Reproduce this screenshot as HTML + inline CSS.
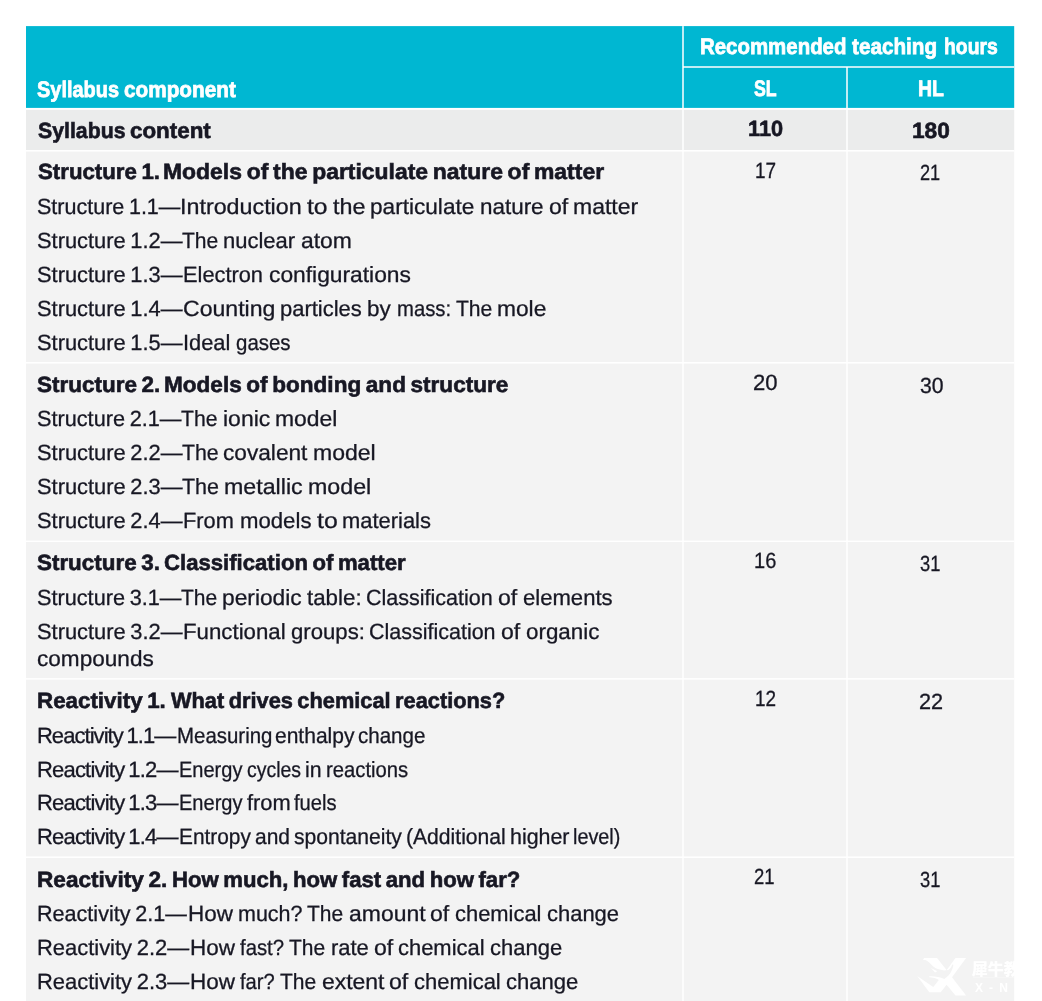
<!DOCTYPE html>
<html lang="en"><head><meta charset="utf-8"><title>Syllabus outline</title>
<style>
html,body{margin:0;padding:0;background:#fff}
body{position:relative;width:1042px;height:1001px;overflow:hidden;font-family:"Liberation Sans","Noto Sans CJK SC",sans-serif}
svg.bg{position:absolute;left:0;top:0}
.t{position:absolute;white-space:nowrap;text-rendering:geometricPrecision;transform-origin:0 0;font:22px/24px "Liberation Sans",sans-serif;color:#171723;-webkit-text-stroke:0.3px #171723}
.t{word-spacing:-1.4px}
.b{font-weight:bold;word-spacing:-1.6px;-webkit-text-stroke:0.6px #171723}
.w{font-size:22.5px;word-spacing:-1.3px;color:#fff;-webkit-text-stroke:0.75px #fff}
.wm{position:absolute;white-space:nowrap;color:#fff;font-weight:bold}
.wm1{left:971.7px;top:959px;font:900 16px/22px "Liberation Sans","Noto Sans CJK SC",sans-serif}
.wm2{left:975px;top:980px;font:bold 12px/16px "Liberation Sans",sans-serif;letter-spacing:6.1px}
</style></head><body>
<svg class="bg" width="1042" height="1001" viewBox="0 0 1042 1001">
<rect x="26.00" y="26.10" width="988.20" height="81.80" fill="#00b7d2"/>
<rect x="26.00" y="109.90" width="988.20" height="40.90" fill="#ebecec"/>
<rect x="26.00" y="150.80" width="988.20" height="850.20" fill="#f3f3f3"/>
<rect x="26.00" y="150.05" width="988.20" height="1.50" fill="#fff"/>
<rect x="26.00" y="362.05" width="988.20" height="1.50" fill="#fff"/>
<rect x="26.00" y="540.55" width="988.20" height="1.50" fill="#fff"/>
<rect x="26.00" y="678.15" width="988.20" height="1.50" fill="#fff"/>
<rect x="26.00" y="856.45" width="988.20" height="1.50" fill="#fff"/>
<rect x="682.25" y="26.10" width="1.50" height="974.90" fill="#fff"/>
<rect x="846.25" y="67.00" width="1.50" height="934.00" fill="#fff"/>
<rect x="683.00" y="66.25" width="331.20" height="1.50" fill="#fff"/>
<g transform="translate(912 951) scale(0.05757)" fill="#fff">
<path d="M185 150 L215 122 L435 122 L600 330 C570 342 540 336 520 330 C440 320 380 290 330 230 C290 180 250 150 185 150 Z"/>
<path d="M330 295 L440 350 L400 375 Z"/>
<path d="M755 122 L940 122 L695 455 L940 775 L755 775 L600 585 L500 715 L300 715 L90 435 L370 625 L465 505 C420 475 360 460 300 458 L300 438 C400 435 490 450 560 485 C640 440 700 360 720 240 L700 235 C680 300 640 335 600 335 Z"/>
</g>
<rect x="973" y="977.6" width="60" height="0.5" fill="#fff" fill-opacity="0.6"/>
</svg>
<span class="t b w" style="left:700.00px;top:35px;transform:scaleX(0.9080)">Recommended </span>
<span class="t b w" style="left:852.20px;top:35px;transform:scaleX(0.9195)">teaching </span>
<span class="t b w" style="left:944.41px;top:35px;transform:scaleX(0.8615)">hours</span>
<span class="t b w" style="left:37.31px;top:78px;transform:scaleX(0.8861)">Syllabus </span>
<span class="t b w" style="left:123.52px;top:78px;transform:scaleX(0.9227)">component </span>
<span class="t b w" style="left:753.80px;top:77px;transform:scaleX(0.7889)">SL </span>
<span class="t b w" style="left:917.87px;top:77px;transform:scaleX(0.8656)">HL</span>
<span class="t b" style="left:37.67px;top:119px;transform:scaleX(0.9666)">Syllabus </span>
<span class="t b" style="left:129.67px;top:119px;transform:scaleX(1.0173)">content </span>
<span class="t b" style="left:748.01px;top:117px;transform:scaleX(0.9868)">110 </span>
<span class="t b" style="left:912.35px;top:119px;transform:scaleX(1.0298)">180</span>
<span class="t b" style="left:37.54px;top:160px;transform:scaleX(1.0107)">Structure 1. </span>
<span class="t b" style="left:162.76px;top:160px;transform:scaleX(1.0424)">Models of the particulate nature of matter </span>
<span class="t" style="left:754.71px;top:159px;transform:scaleX(0.8618)">17 </span>
<span class="t" style="left:919.62px;top:161px;transform:scaleX(0.8262)">21</span>
<span class="t" style="left:36.75px;top:195px;transform:scaleX(0.9782)">Structure 1.1—</span><span class="t" style="left:180.38px;top:195px;transform:scaleX(1.0583)">Introduction </span>
<span class="t" style="left:307.44px;top:195px;transform:scaleX(1.1225)">to </span>
<span class="t" style="left:332.91px;top:195px;transform:scaleX(1.0594)">the </span>
<span class="t" style="left:370.47px;top:195px;transform:scaleX(1.0277)">particulate </span>
<span class="t" style="left:480.02px;top:195px;transform:scaleX(1.0191)">nature </span>
<span class="t" style="left:548.66px;top:195px;transform:scaleX(1.0481)">of </span>
<span class="t" style="left:573.46px;top:195px;transform:scaleX(1.0441)">matter</span>
<span class="t" style="left:36.73px;top:229px;transform:scaleX(0.9927)">Structure 1.2—</span><span class="t" style="left:181.66px;top:229px;transform:scaleX(0.9561)">The </span>
<span class="t" style="left:223.36px;top:229px;transform:scaleX(1.0002)">nuclear </span>
<span class="t" style="left:300.56px;top:229px;transform:scaleX(1.0405)">atom</span>
<span class="t" style="left:36.73px;top:263px;transform:scaleX(0.9927)">Structure 1.3—</span><span class="t" style="left:183.16px;top:263px;transform:scaleX(0.9905)">Electron </span>
<span class="t" style="left:268.64px;top:263px;transform:scaleX(1.0363)">configurations</span>
<span class="t" style="left:36.73px;top:297px;transform:scaleX(0.9927)">Structure 1.4—</span><span class="t" style="left:182.81px;top:297px;transform:scaleX(1.0487)">Counting </span>
<span class="t" style="left:280.01px;top:297px;transform:scaleX(0.9980)">particles </span>
<span class="t" style="left:367.48px;top:297px;transform:scaleX(1.0198)">by </span>
<span class="t" style="left:396.88px;top:297px;transform:scaleX(0.9217)">mass: </span>
<span class="t" style="left:455.50px;top:297px;transform:scaleX(0.9577)">The </span>
<span class="t" style="left:497.21px;top:297px;transform:scaleX(1.0341)">mole</span>
<span class="t" style="left:36.73px;top:331px;transform:scaleX(0.9927)">Structure 1.5—</span><span class="t" style="left:182.82px;top:331px;transform:scaleX(0.9929)">Ideal </span>
<span class="t" style="left:235.80px;top:331px;transform:scaleX(0.9300)">gases</span>
<span class="t b" style="left:37.43px;top:373px;transform:scaleX(1.0217)">Structure 2. </span>
<span class="t b" style="left:164.38px;top:373px;transform:scaleX(1.0253)">Models of bonding and structure </span>
<span class="t" style="left:752.82px;top:371px;transform:scaleX(1.0020)">20 </span>
<span class="t" style="left:919.53px;top:374px;transform:scaleX(0.9634)">30</span>
<span class="t" style="left:36.74px;top:407px;transform:scaleX(0.9858)">Structure 2.1—</span><span class="t" style="left:180.66px;top:407px;transform:scaleX(0.9602)">The </span>
<span class="t" style="left:222.52px;top:407px;transform:scaleX(1.0442)">ionic </span>
<span class="t" style="left:274.86px;top:407px;transform:scaleX(1.0406)">model</span>
<span class="t" style="left:36.73px;top:441px;transform:scaleX(0.9927)">Structure 2.2—</span><span class="t" style="left:181.66px;top:441px;transform:scaleX(0.9657)">The </span>
<span class="t" style="left:223.46px;top:441px;transform:scaleX(1.0302)">covalent </span>
<span class="t" style="left:313.32px;top:441px;transform:scaleX(1.0466)">model</span>
<span class="t" style="left:36.73px;top:475px;transform:scaleX(0.9927)">Structure 2.3—</span><span class="t" style="left:181.65px;top:475px;transform:scaleX(0.9742)">The </span>
<span class="t" style="left:224.07px;top:475px;transform:scaleX(1.0544)">metallic </span>
<span class="t" style="left:307.77px;top:475px;transform:scaleX(1.0559)">model</span>
<span class="t" style="left:36.73px;top:509px;transform:scaleX(0.9927)">Structure 2.4—</span><span class="t" style="left:183.16px;top:509px;transform:scaleX(0.9895)">From </span>
<span class="t" style="left:239.72px;top:509px;transform:scaleX(1.0076)">models </span>
<span class="t" style="left:316.54px;top:509px;transform:scaleX(1.1285)">to </span>
<span class="t" style="left:342.45px;top:509px;transform:scaleX(0.9964)">materials</span>
<span class="t b" style="left:37.43px;top:551px;transform:scaleX(1.0183)">Structure 3. </span>
<span class="t b" style="left:164.29px;top:551px;transform:scaleX(1.0062)">Classification of matter </span>
<span class="t" style="left:754.43px;top:549px;transform:scaleX(0.9102)">16 </span>
<span class="t" style="left:919.85px;top:552px;transform:scaleX(0.8332)">31</span>
<span class="t" style="left:36.74px;top:586px;transform:scaleX(0.9858)">Structure 3.1—</span><span class="t" style="left:180.66px;top:586px;transform:scaleX(0.9536)">The </span>
<span class="t" style="left:222.24px;top:586px;transform:scaleX(1.0343)">periodic </span>
<span class="t" style="left:306.81px;top:586px;transform:scaleX(1.0144)">table: </span>
<span class="t" style="left:365.82px;top:586px;transform:scaleX(0.9779)">Classification </span>
<span class="t" style="left:497.92px;top:586px;transform:scaleX(1.0493)">of </span>
<span class="t" style="left:522.53px;top:586px;transform:scaleX(1.0035)">elements</span>
<span class="t" style="left:36.73px;top:620px;transform:scaleX(0.9927)">Structure 3.2—</span><span class="t" style="left:183.12px;top:620px;transform:scaleX(1.0112)">Functional </span>
<span class="t" style="left:291.09px;top:620px;transform:scaleX(1.0071)">groups: </span>
<span class="t" style="left:369.36px;top:620px;transform:scaleX(0.9764)">Classification </span>
<span class="t" style="left:501.26px;top:620px;transform:scaleX(1.0475)">of </span>
<span class="t" style="left:525.81px;top:620px;transform:scaleX(1.0178)">organic</span>
<span class="t" style="left:37.12px;top:647px;transform:scaleX(1.0268)">compounds</span>
<span class="t b" style="left:37.10px;top:689px;transform:scaleX(1.0157)">Reactivity 1. </span>
<span class="t b" style="left:170.77px;top:689px;transform:scaleX(0.9902)">What drives chemical reactions? </span>
<span class="t" style="left:755.21px;top:687px;transform:scaleX(0.8618)">12 </span>
<span class="t" style="left:918.94px;top:690px;transform:scaleX(0.9846)">22</span>
<span class="t" style="left:36.94px;top:724px;letter-spacing:-0.951px">Reactivity 1.1—</span><span class="t" style="left:176.97px;top:724px;transform:scaleX(0.9288)">Measuring </span>
<span class="t" style="left:275.38px;top:724px;transform:scaleX(0.9549)">enthalpy </span>
<span class="t" style="left:358.40px;top:724px;transform:scaleX(0.9338)">change</span>
<span class="t" style="left:36.94px;top:758px;letter-spacing:-0.794px">Reactivity 1.2—</span><span class="t" style="left:179.40px;top:758px;transform:scaleX(0.9097)">Energy </span>
<span class="t" style="left:246.51px;top:758px;transform:scaleX(0.8831)">cycles </span>
<span class="t" style="left:304.61px;top:758px;transform:scaleX(0.9655)">in </span>
<span class="t" style="left:325.69px;top:758px;transform:scaleX(0.9202)">reactions</span>
<span class="t" style="left:36.94px;top:791px;letter-spacing:-0.794px">Reactivity 1.3—</span><span class="t" style="left:179.40px;top:791px;transform:scaleX(0.9110)">Energy </span>
<span class="t" style="left:246.56px;top:791px;transform:scaleX(0.9941)">from </span>
<span class="t" style="left:294.45px;top:791px;transform:scaleX(0.9157)">fuels</span>
<span class="t" style="left:36.94px;top:825px;letter-spacing:-0.794px">Reactivity 1.4—</span><span class="t" style="left:179.33px;top:825px;transform:scaleX(0.9485)">Entropy </span>
<span class="t" style="left:254.86px;top:825px;transform:scaleX(0.9533)">and </span>
<span class="t" style="left:294.11px;top:825px;transform:scaleX(0.9586)">spontaneity </span>
<span class="t" style="left:405.93px;top:825px;transform:scaleX(0.9596)">(Additional </span>
<span class="t" style="left:509.94px;top:825px;transform:scaleX(0.9724)">higher </span>
<span class="t" style="left:573.32px;top:825px;transform:scaleX(0.8992)">level)</span>
<span class="t b" style="left:37.08px;top:868px;transform:scaleX(1.0278)">Reactivity 2. </span>
<span class="t b" style="left:171.61px;top:868px;transform:scaleX(1.0065)">How much, how fast and how far? </span>
<span class="t" style="left:753.60px;top:865px;transform:scaleX(0.8397)">21 </span>
<span class="t" style="left:919.85px;top:868px;transform:scaleX(0.8332)">31</span>
<span class="t" style="left:36.97px;top:902px;transform:scaleX(0.9807)">Reactivity 2.1—</span><span class="t" style="left:187.60px;top:902px;transform:scaleX(1.0201)">How </span>
<span class="t" style="left:237.87px;top:902px;transform:scaleX(0.9762)">much? </span>
<span class="t" style="left:307.40px;top:902px;transform:scaleX(0.9522)">The </span>
<span class="t" style="left:348.69px;top:902px;transform:scaleX(1.0432)">amount </span>
<span class="t" style="left:430.40px;top:902px;transform:scaleX(1.0475)">of </span>
<span class="t" style="left:454.97px;top:902px;transform:scaleX(0.9957)">chemical </span>
<span class="t" style="left:546.94px;top:902px;transform:scaleX(0.9978)">change</span>
<span class="t" style="left:36.94px;top:936px;transform:scaleX(0.9966)">Reactivity 2.2—</span><span class="t" style="left:190.00px;top:936px;transform:scaleX(1.0215)">How </span>
<span class="t" style="left:240.10px;top:936px;transform:scaleX(0.9226)">fast? </span>
<span class="t" style="left:289.29px;top:936px;transform:scaleX(0.9533)">The </span>
<span class="t" style="left:330.89px;top:936px;transform:scaleX(0.9969)">rate </span>
<span class="t" style="left:373.74px;top:936px;transform:scaleX(1.0487)">of </span>
<span class="t" style="left:398.34px;top:936px;transform:scaleX(0.9971)">chemical </span>
<span class="t" style="left:490.44px;top:936px;transform:scaleX(0.9992)">change</span>
<span class="t" style="left:36.94px;top:970px;transform:scaleX(0.9966)">Reactivity 2.3—</span><span class="t" style="left:190.00px;top:970px;transform:scaleX(1.0237)">How </span>
<span class="t" style="left:240.22px;top:970px;transform:scaleX(0.9151)">far? </span>
<span class="t" style="left:280.16px;top:970px;transform:scaleX(0.9555)">The </span>
<span class="t" style="left:321.51px;top:970px;transform:scaleX(1.0428)">extent </span>
<span class="t" style="left:389.12px;top:970px;transform:scaleX(1.0516)">of </span>
<span class="t" style="left:413.78px;top:970px;transform:scaleX(0.9994)">chemical </span>
<span class="t" style="left:506.08px;top:970px;transform:scaleX(1.0015)">change</span>
<span class="wm wm1">犀牛教育</span>
<span class="wm wm2">X-NEW</span>
</body></html>
